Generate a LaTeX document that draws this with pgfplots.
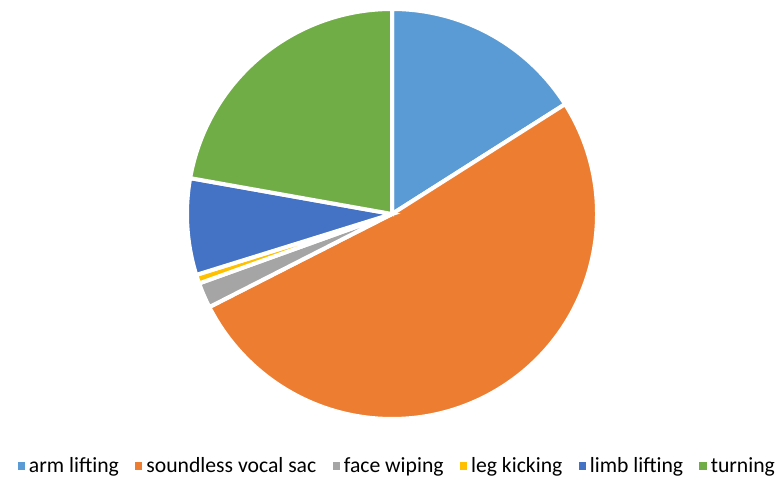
\documentclass[border=0pt]{standalone}
\usepackage{pgfplots}
\pgfplotsset{compat=1.18}
\usepackage{fontspec}
\setmainfont{Carlito}
\definecolor{c1}{HTML}{5B9BD5}
\definecolor{c2}{HTML}{ED7D31}
\definecolor{c3}{HTML}{A5A5A5}
\definecolor{c4}{HTML}{FFC000}
\definecolor{c5}{HTML}{4472C4}
\definecolor{c6}{HTML}{70AD47}
\begin{document}
\begin{tikzpicture}
% slice values (percent)
\def\vA{16.0}\def\vB{51.5}\def\vC{2.0}\def\vD{0.7}\def\vE{7.6}\def\vF{22.2}
\pgfmathsetmacro\aA{90}
\pgfmathsetmacro\aB{\aA-3.6*\vA}
\pgfmathsetmacro\aC{\aB-3.6*\vB}
\pgfmathsetmacro\aD{\aC-3.6*\vC}
\pgfmathsetmacro\aE{\aD-3.6*\vD}
\pgfmathsetmacro\aF{\aE-3.6*\vE}
\pgfmathsetmacro\aG{\aF-3.6*\vF}
\def\R{123pt}
\begin{axis}[
  x=0.6pt, y=0.6pt,
  xmin=0, xmax=782, ymin=0, ymax=479,
  axis line style={draw=none}, ticks=none,
  clip=false,
  legend columns=-1,
  legend image code/.code={\fill[#1,draw=none] (0pt,-2.2pt) rectangle (4.4pt,2.2pt);},
  legend style={draw=none, fill=none, at={(0.508,0.027)}, anchor=center,
    font=\fontsize{13}{15}\selectfont, inner sep=0pt,
    nodes={inner sep=1.2pt},
    /tikz/every odd column/.append style={column sep=1.2pt},
    /tikz/every even column/.append style={column sep=8.5pt}},
]
\addplot[fill=c1, draw=white, line width=2.4pt] coordinates {(392,265)} -- ++(\aA:\R) arc[start angle=\aA, end angle=\aB, radius=\R] -- cycle;
\addlegendentry{arm lifting}
\addplot[fill=c2, draw=white, line width=2.4pt] coordinates {(392,265)} -- ++(\aB:\R) arc[start angle=\aB, end angle=\aC, radius=\R] -- cycle;
\addlegendentry{soundless vocal sac}
\addplot[fill=c3, draw=white, line width=2.4pt] coordinates {(392,265)} -- ++(\aC:\R) arc[start angle=\aC, end angle=\aD, radius=\R] -- cycle;
\addlegendentry{face wiping}
\addplot[fill=c4, draw=white, line width=2.4pt] coordinates {(392,265)} -- ++(\aD:\R) arc[start angle=\aD, end angle=\aE, radius=\R] -- cycle;
\addlegendentry{leg kicking}
\addplot[fill=c5, draw=white, line width=2.4pt] coordinates {(392,265)} -- ++(\aE:\R) arc[start angle=\aE, end angle=\aF, radius=\R] -- cycle;
\addlegendentry{limb lifting}
\addplot[fill=c6, draw=white, line width=2.4pt] coordinates {(392,265)} -- ++(\aF:\R) arc[start angle=\aF, end angle=\aG, radius=\R] -- cycle;
\addlegendentry{turning}
\end{axis}
\end{tikzpicture}
\end{document}
